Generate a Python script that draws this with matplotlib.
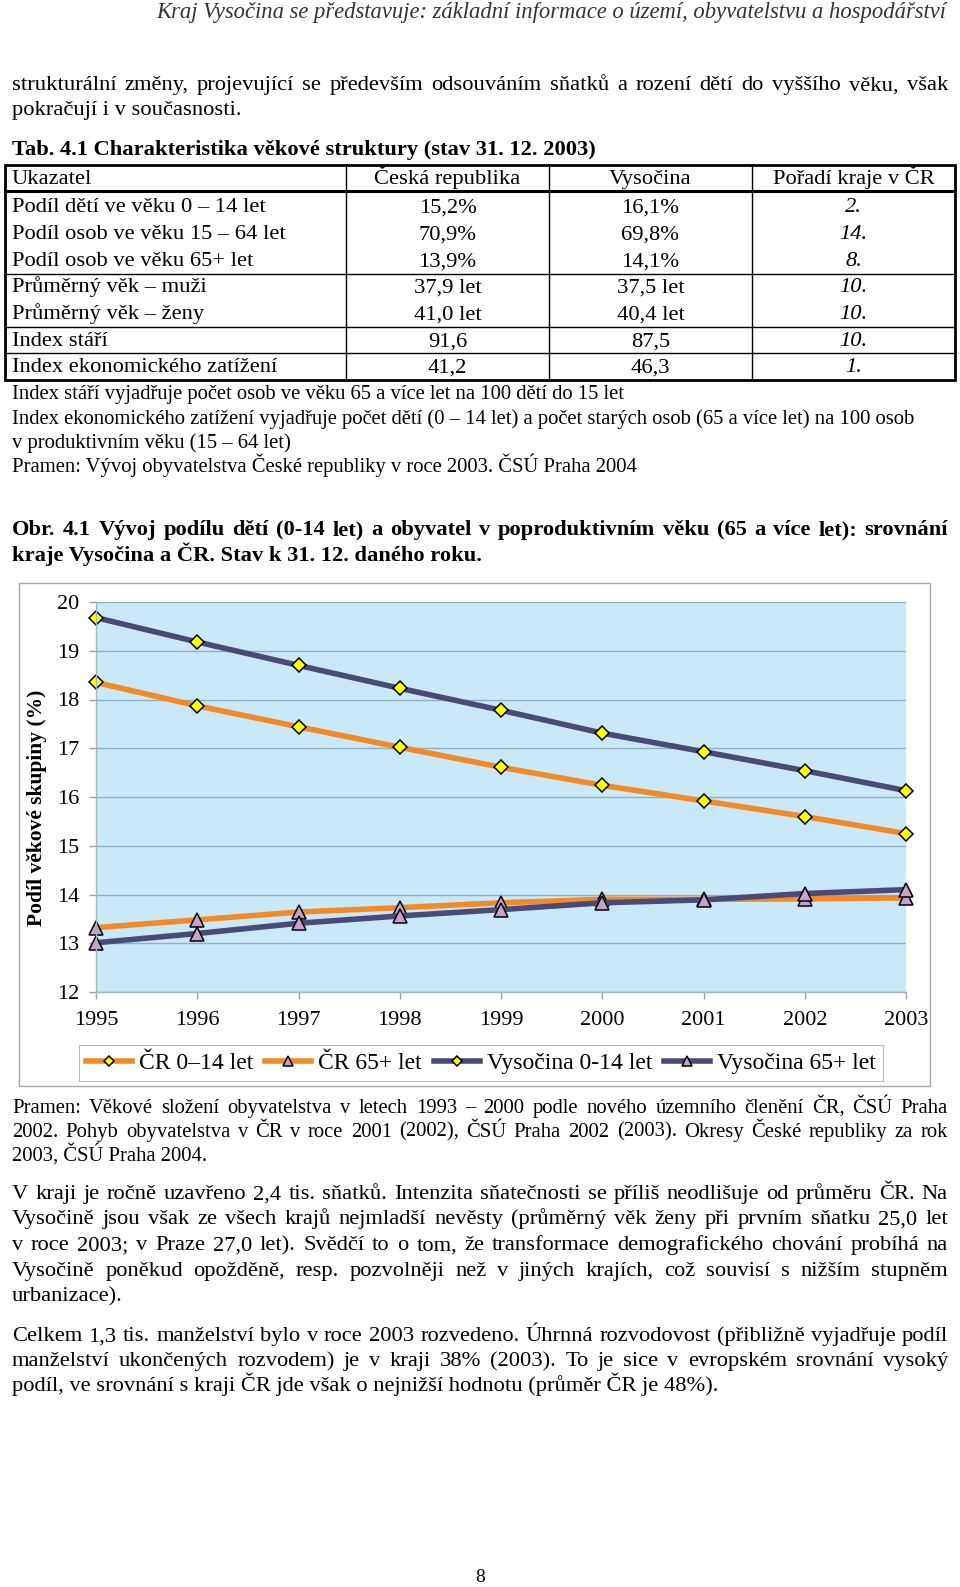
import matplotlib
matplotlib.use('Agg')
import matplotlib.pyplot as plt
from matplotlib.patches import Rectangle

plt.rcParams['font.family'] = ['Liberation Serif', 'DejaVu Serif']

# data of Obr. 4.1 (percent of population)
roky = [1995, 1996, 1997, 1998, 1999, 2000, 2001, 2002, 2003]
cr_0_14 = [18.35, 17.87, 17.44, 17.02, 16.61, 16.24, 15.92, 15.60, 15.25]
cr_65 = [13.32, 13.48, 13.64, 13.73, 13.83, 13.90, 13.90, 13.91, 13.93]
vys_0_14 = [19.68, 19.18, 18.70, 18.23, 17.78, 17.31, 16.93, 16.54, 16.13]
vys_65 = [13.01, 13.20, 13.41, 13.56, 13.69, 13.83, 13.89, 14.02, 14.10]
nazvy = ['ČR 0–14 let', 'ČR 65+ let', 'Vysočina 0-14 let', 'Vysočina 65+ let']

# table 4.1
tab_hlavicka = ['Ukazatel', 'Česká republika', 'Vysočina', 'Pořadí kraje v ČR']
tab_ukazatel = ['Podíl dětí ve věku 0 – 14 let', 'Podíl osob ve věku 15 – 64 let',
                'Podíl osob ve věku 65+ let', 'Průměrný věk – muži', 'Průměrný věk – ženy',
                'Index stáří', 'Index ekonomického zatížení']
tab_cr = ['15,2%', '70,9%', '13,9%', '37,9 let', '41,0 let', '91,6', '41,2']
tab_vys = ['16,1%', '69,8%', '14,1%', '37,5 let', '40,4 let', '87,5', '46,3']
tab_poradi = ['2.', '14.', '8.', '10.', '10.', '10.', '1.']

W, H = 960, 1587
BODY = 16.2
SMALL = 14.9

fig = plt.figure(figsize=(W / 100, H / 100), dpi=100)
page = fig.add_axes([0, 0, 1, 1])
page.set_xlim(0, W)
page.set_ylim(H, 0)
page.axis('off')
renderer = fig.canvas.get_renderer()


def base(y, size):
    # y is the visual middle of the line, convert to baseline
    return y + 0.27 * size * 100 / 72


def line(txt, y, size=BODY, x=12, ha='left', **kw):
    return page.text(x, base(y, size), txt, fontsize=size, ha=ha, va='baseline', **kw)


def justify(txt, y, size=BODY, x0=12, x1=948, **kw):
    words = txt.split()
    items = [page.text(0, base(y, size), w, fontsize=size, va='baseline', **kw) for w in words]
    widths = [t.get_window_extent(renderer).width for t in items]
    gap = (x1 - x0 - sum(widths)) / (len(words) - 1)
    x = x0
    for t, w in zip(items, widths):
        t.set_x(x)
        x += w + gap


# page header and text above the table
line('Kraj Vysočina se představuje: základní informace o území, obyvatelstvu a hospodářství',
     12, size=16.3, x=946, ha='right', style='italic', color='#333333')
justify('strukturální změny, projevující se především odsouváním sňatků a rození dětí do vyššího věku, však', 84)
line('pokračují i v současnosti.', 109)
line('Tab. 4.1 Charakteristika věkové struktury (stav 31. 12. 2003)', 149, weight='bold')

# table
tx0, tx1 = 5, 955
ty0, ty1 = 165, 380
sloupce = [346, 549, 752]
stredy = [447.5, 650.5, 853.5]
page.add_patch(Rectangle((tx0, ty0), tx1 - tx0, ty1 - ty0, fill=False, ec='black', lw=2.0))
for xs in sloupce:
    page.plot([xs, xs], [ty0, ty1], color='black', lw=1.0)
page.plot([tx0, tx1], [191, 191], color='black', lw=2.2, solid_capstyle='butt')
for yl in [274, 327, 353]:
    page.plot([tx0, tx1], [yl, yl], color='black', lw=1.0, solid_capstyle='butt')

line(tab_hlavicka[0], 178)
for xc, s in zip(stredy, tab_hlavicka[1:]):
    line(s, 178, x=xc, ha='center')
radky_y = [206, 233, 260, 286, 313, 340, 366]
for i, yr in enumerate(radky_y):
    line(tab_ukazatel[i], yr)
    line(tab_cr[i], yr, x=stredy[0], ha='center')
    line(tab_vys[i], yr, x=stredy[1], ha='center')
    line(tab_poradi[i], yr, x=stredy[2], ha='center', style='italic')

line('Index stáří vyjadřuje počet osob ve věku 65 a více let na 100 dětí do 15 let', 393, size=SMALL)
line('Index ekonomického zatížení vyjadřuje počet dětí (0 – 14 let) a počet starých osob (65 a více let) na 100 osob',
     418, size=SMALL)
line('v produktivním věku (15 – 64 let)', 442, size=SMALL)
line('Pramen: Vývoj obyvatelstva České republiky v roce 2003. ČSÚ Praha 2004', 466, size=SMALL)

justify('Obr. 4.1 Vývoj podílu dětí (0-14 let) a obyvatel v poproduktivním věku (65 a více let): srovnání',
        529, weight='bold')
line('kraje Vysočina a ČR. Stav k 31. 12. daného roku.', 555, weight='bold')

# chart
page.add_patch(Rectangle((19, 583), 911, 503, fill=False, ec='#A9A9A9', lw=1.0))
ax = fig.add_axes([96 / W, 1 - 992 / H, (906 - 96) / W, (992 - 602) / H])
ax.set_facecolor('#C9E9F8')

navy = '#4A4A78'
orange = '#F28A28'
styl = dict(lw=4.0, clip_on=False, markeredgecolor='black', markeredgewidth=1.1)
h1, = ax.plot(roky, cr_0_14, color=orange, marker='D', ms=7, mfc='#FFFF00', label=nazvy[0], **styl)
h2, = ax.plot(roky, cr_65, color=orange, marker='^', ms=9.5, mfc='#C8A0CC', label=nazvy[1], **styl)
h3, = ax.plot(roky, vys_0_14, color=navy, marker='D', ms=7, mfc='#FFFF00', label=nazvy[2], **styl)
h4, = ax.plot(roky, vys_65, color=navy, marker='^', ms=9.5, mfc='#C8A0CC', label=nazvy[3], **styl)

ax.set_xlim(1995, 2003)
ax.set_ylim(12, 20)
ax.set_xticks(roky)
ax.set_yticks(range(12, 21))
ax.grid(axis='y', color='#8DAFC7', lw=1.0)
ax.set_axisbelow(True)
for s in ['top', 'right']:
    ax.spines[s].set_visible(False)
for s in ['left', 'bottom']:
    ax.spines[s].set_color('#A3B4C2')
    ax.spines[s].set_linewidth(1.0)
ax.tick_params(axis='y', length=5, width=1, color='#A0A0A0', pad=7, labelsize=16)
ax.tick_params(axis='x', length=5, width=1, color='#A0A0A0', pad=9, labelsize=16)

page.text(37, 808, 'Podíl věkové skupiny (%)', rotation=90, ha='center', va='center',
          fontsize=15.5, weight='bold')

leg = ax.legend(handles=[h1, h2, h3, h4], loc='center', bbox_to_anchor=(481 / W, 1 - 1063 / H),
                bbox_transform=fig.transFigure, ncol=4, fontsize=17, frameon=True, fancybox=False,
                edgecolor='#A9A9A9', handlelength=1.95, handletextpad=0.3, columnspacing=0.5,
                borderpad=0.3, borderaxespad=0, numpoints=1, markerscale=0.8)
leg.get_frame().set_linewidth(0.8)

# text below the chart
justify('Pramen:  Věkové složení obyvatelstva v letech 1993 – 2000 podle nového územního členění ČR, ČSÚ Praha',
        1107, size=SMALL)
justify('2002. Pohyb obyvatelstva v ČR v roce 2001 (2002), ČSÚ Praha 2002 (2003). Okresy České republiky za rok',
        1131, size=SMALL)
line('2003, ČSÚ Praha 2004.', 1155, size=SMALL)

justify('V kraji je ročně uzavřeno 2,4 tis. sňatků. Intenzita sňatečnosti se příliš neodlišuje od průměru ČR. Na', 1193)
justify('Vysočině jsou však ze všech krajů nejmladší nevěsty (průměrný věk ženy při prvním sňatku 25,0 let', 1218)
justify('v roce 2003; v Praze 27,0 let). Svědčí to o tom, že transformace demografického chování probíhá na', 1244)
justify('Vysočině poněkud opožděně, resp. pozvolněji než v jiných krajích, což souvisí s nižším stupněm', 1270)
line('urbanizace).', 1295)

justify('Celkem 1,3 tis. manželství bylo v roce 2003 rozvedeno. Úhrnná rozvodovost (přibližně vyjadřuje podíl', 1335)
justify('manželství ukončených rozvodem) je v kraji 38% (2003). To je sice v evropském srovnání vysoký', 1360)
line('podíl, ve srovnání s kraji ČR jde však o nejnižší hodnotu (průměr ČR je 48%).', 1385)

line('8', 1577, size=14, x=480, ha='center')

fig.savefig('out.png', dpi=100)
